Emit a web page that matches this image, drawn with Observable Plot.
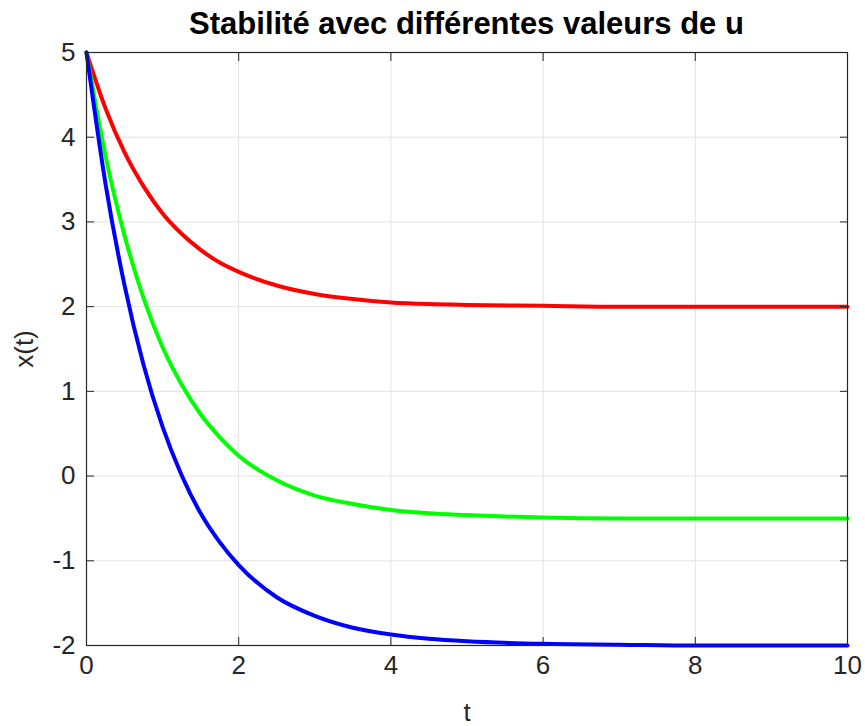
<!DOCTYPE html>
<html>
<head>
<meta charset="utf-8">
<script src="https://cdn.jsdelivr.net/npm/d3@7"></script>
<script src="https://cdn.jsdelivr.net/npm/@observablehq/plot@0.6"></script>
<style>
  html, body { margin: 0; padding: 0; background: #fff; }
  #title {
    width: 865px; height: 28px; box-sizing: border-box;
    padding: 7px 18px 0 86px;
    text-align: center;
    font: bold 31px "Liberation Sans", Arial, sans-serif;
    color: #000; line-height: 34px;
    position: relative; z-index: 1;
  }
</style>
</head>
<body>
<div id="title">Stabilité avec différentes valeurs de u</div>
<div id="chart"></div>
<script>
// Time samples and the three trajectories x(t)
const t = [0, 0.25, 0.5, 0.75, 1, 1.25, 1.5, 1.75, 2, 2.5, 3, 3.5, 4, 4.5, 5, 6, 7, 8, 9, 10];
const xRed   = [5, 4.34, 3.82, 3.42, 3.10, 2.86, 2.67, 2.52, 2.41, 2.25, 2.15, 2.09, 2.05, 2.03, 2.02, 2.01, 2.00, 2.00, 2.00, 2.00];
const xGreen = [5, 3.78, 2.84, 2.10, 1.52, 1.08, 0.73, 0.46, 0.24, -0.05, -0.23, -0.33, -0.40, -0.44, -0.46, -0.49, -0.50, -0.50, -0.50, -0.50];
const xBlue  = [5, 3.45, 2.25, 1.31, 0.58, 0.01, -0.44, -0.78, -1.05, -1.43, -1.65, -1.79, -1.87, -1.92, -1.95, -1.98, -1.99, -2.00, -2.00, -2.00];
const seriesColors = ["#ff0000", "#00ff00", "#0000ff"];

// Axis ticks
const xTicks = [0, 2, 4, 6, 8, 10];
const yTicks = [-2, -1, 0, 1, 2, 3, 4, 5];

const rows = (vals) => t.map((ti, i) => ({t: ti, x: vals[i]}));
const font = '"Liberation Sans", Arial, sans-serif';
const ink = "#262626";
const plain = (d) => String(d);

const lineOpts = (c) => ({x: "t", y: "x", stroke: c, strokeWidth: 4, curve: "monotone-x"});

const chart = Plot.plot({
  width: 865,
  height: 698,
  marginLeft: 86,
  marginRight: 18,
  marginTop: 24,
  marginBottom: 81,
  style: {fontFamily: font, color: ink, background: "transparent"},
  x: {domain: [0, 10]},
  y: {domain: [-2, 5]},
  marks: [
    Plot.gridX(xTicks, {stroke: "#e3e3e3", strokeOpacity: 1}),
    Plot.gridY(yTicks, {stroke: "#e3e3e3", strokeOpacity: 1}),
    Plot.line(rows(xRed), lineOpts(seriesColors[0])),
    Plot.line(rows(xGreen), lineOpts(seriesColors[1])),
    Plot.line(rows(xBlue), lineOpts(seriesColors[2])),
    Plot.frame({stroke: ink, strokeWidth: 1.2}),
    Plot.axisX(xTicks, {anchor: "bottom", tickSize: -8, tickPadding: 18, fontSize: 26, stroke: ink, fill: ink,
      tickFormat: plain, label: "t", labelAnchor: "center", labelOffset: 75, labelArrow: "none"}),
    Plot.axisX(xTicks, {anchor: "top", tickSize: -8, tickFormat: () => "", label: null, stroke: ink}),
    Plot.axisY(yTicks, {anchor: "left", tickSize: -8, tickPadding: 19, fontSize: 26, stroke: ink, fill: ink,
      tickFormat: plain, label: "x(t)", labelAnchor: "center", labelOffset: 72, labelArrow: "none"}),
    Plot.axisY(yTicks, {anchor: "right", tickSize: -8, tickFormat: () => "", label: null, stroke: ink})
  ]
});
chart.style.marginTop = "0";
document.getElementById("chart").appendChild(chart);
</script>
</body>
</html>
